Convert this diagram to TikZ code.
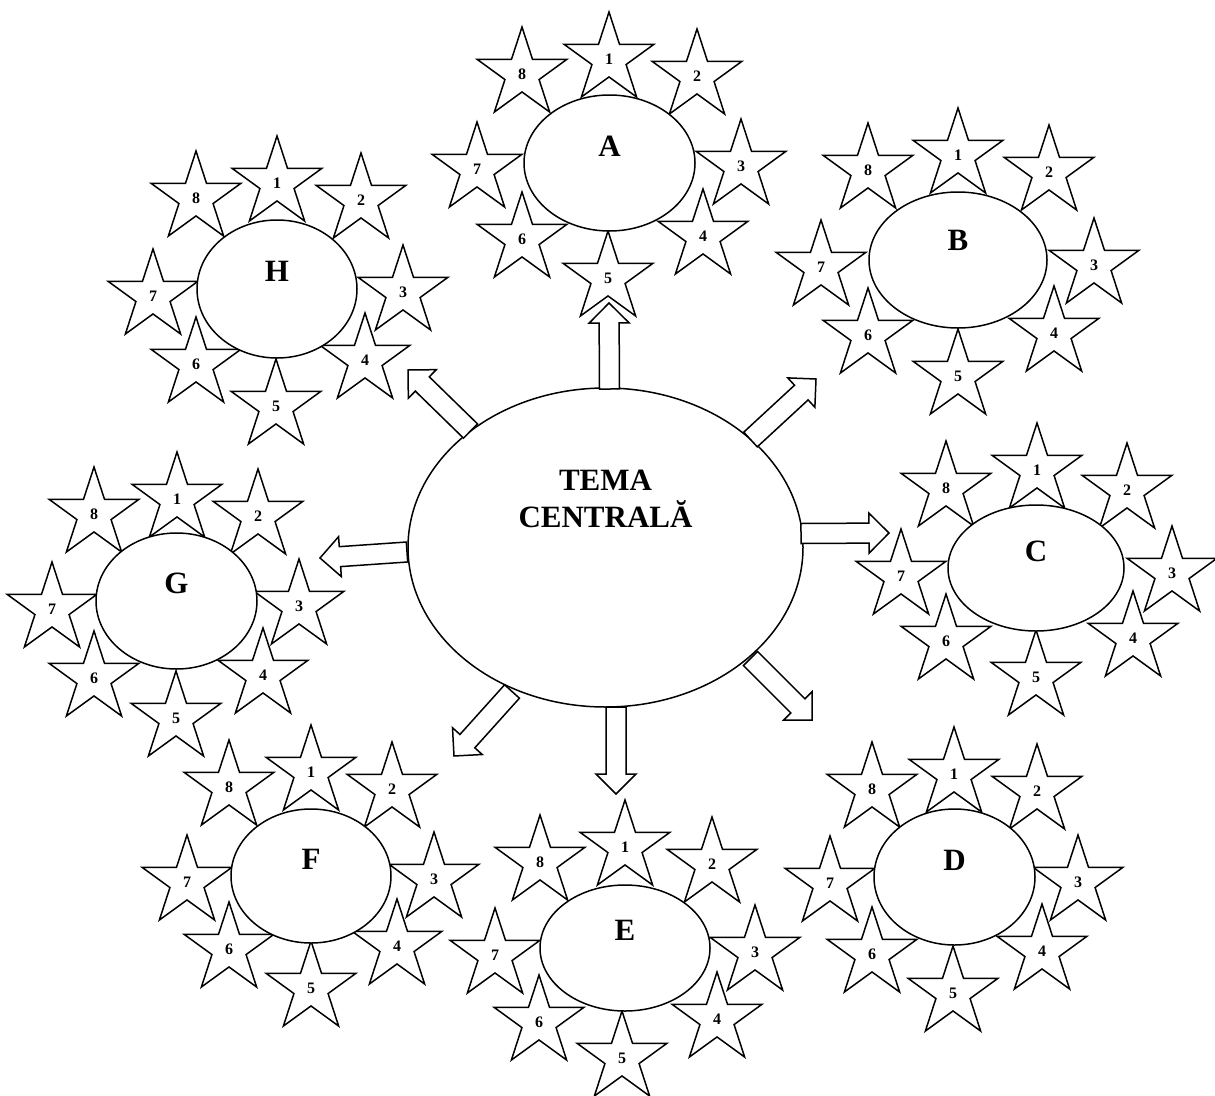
\documentclass[tikz,border=0pt]{standalone}
\usepackage{fontspec}
\setmainfont{Liberation Serif}
\usetikzlibrary{shapes.geometric,calc}
\tikzset{
  starnode/.style={star, star points=5, star point ratio=2.618, minimum size=94pt,
    inner sep=0pt, draw, fill=white, line width=1.5pt, line join=miter,
    font=\fontsize{16}{16}\selectfont\bfseries},
  cell/.style={ellipse, draw, fill=white, line width=1.5pt, inner sep=0pt},
  lbl/.style={font=\fontsize{31}{37}\selectfont\bfseries, align=center},
  blockarr/.style={draw, fill=white, line width=1.5pt, line join=miter},
}
% #1 name, #2 centre, #3 width, #4 height, #5 label shift, #6 letter, #7 stars
\newcommand\cluster[7]{%
  \foreach \n/\sx/\sy in {#7} { \node[starnode] (#1s\n) at (\sx,\sy) {\n}; }
  \node[cell, minimum width=#3pt, minimum height=#4pt,
    label={[lbl,yshift=#5pt]center:#6}] (#1) at (#2) {};
}
\newcommand\blockarrow[2]{%
  \coordinate (#1h) at ($(#2)!20pt!(#1)$);
  \draw[blockarr] ($(#1)!10pt!90:(#2)$) -- ($(#1h)!10pt!90:(#2)$) -- ($(#1h)!20pt!90:(#2)$)
    -- (#2) -- ($(#1h)!20pt!-90:(#2)$) -- ($(#1h)!10pt!-90:(#2)$) -- ($(#1)!10pt!-90:(#2)$) -- cycle;
}
\begin{document}
\begin{tikzpicture}[x=1pt,y=-1pt]
\useasboundingbox[fill=white] (0,0) rectangle (1215,1095);

\cluster{A}{609.5,163}{171}{136}{17}{A}{1/609/59, 2/697/76, 3/741/166, 4/703/236, 5/608/278, 6/522/239, 7/477/169, 8/522/74}
\cluster{B}{958,260}{178}{136}{20}{B}{1/958/155, 2/1049/172, 3/1094/265, 4/1054/333, 5/958/376, 6/868/335, 7/821/267, 8/868/170}
\cluster{C}{1036,568}{176}{126}{17}{C}{1/1037/470, 2/1127/490, 3/1172/573, 4/1133/638, 5/1036/677, 6/946/641, 7/901/576, 8/946/488}
\cluster{D}{954.5,877}{161}{136}{17}{D}{1/954/774, 2/1037/791, 3/1078/882, 4/1042/951, 5/953/993, 6/872/954, 7/830/883, 8/872/789}
\cluster{E}{625,948}{170}{126}{18}{E}{1/625/847, 2/712/864, 3/755/952, 4/717/1019, 5/622/1058, 6/539/1022, 7/495/955, 8/540/862}
\cluster{F}{311,876}{160}{134}{17}{F}{1/311/772, 2/392/789, 3/434/879, 4/397/946, 5/311/988, 6/229/949, 7/187/882, 8/229/787}
\cluster{G}{176.5,601}{161}{136}{18}{G}{1/177/499, 2/258/516, 3/299/606, 4/263/675, 5/176/718, 6/94/678, 7/52/609, 8/94/514}
\cluster{H}{277,289}{160}{138}{18}{H}{1/277/183, 2/361/200, 3/403/292, 4/365/360, 5/276/406, 6/196/364, 7/153/296, 8/196/198}

\node[cell, minimum width=395pt, minimum height=319pt,
  label={[lbl,yshift=48.5pt]center:TEMA\\CENTRALĂ}] (T) at (605.5,547.5) {};

\coordinate (bU) at (609.5,389);   \coordinate (tU) at (609,303);
\coordinate (bNE) at (750.5,439.5); \coordinate (tNE) at (816,379);
\coordinate (bE) at (801,533.5);   \coordinate (tE) at (889,533);
\coordinate (bSE) at (750.5,658.5); \coordinate (tSE) at (812,720);
\coordinate (bS) at (616,707);     \coordinate (tS) at (616,794);
\coordinate (bSW) at (512,691.5);  \coordinate (tSW) at (454,756);
\coordinate (bW) at (407,552);     \coordinate (tW) at (320,558);
\coordinate (bNW) at (470.5,431);  \coordinate (tNW) at (408,370);

\blockarrow{bU}{tU}
\blockarrow{bNE}{tNE}
\blockarrow{bE}{tE}
\blockarrow{bSE}{tSE}
\blockarrow{bS}{tS}
\blockarrow{bSW}{tSW}
\blockarrow{bW}{tW}
\blockarrow{bNW}{tNW}
\end{tikzpicture}
\end{document}
